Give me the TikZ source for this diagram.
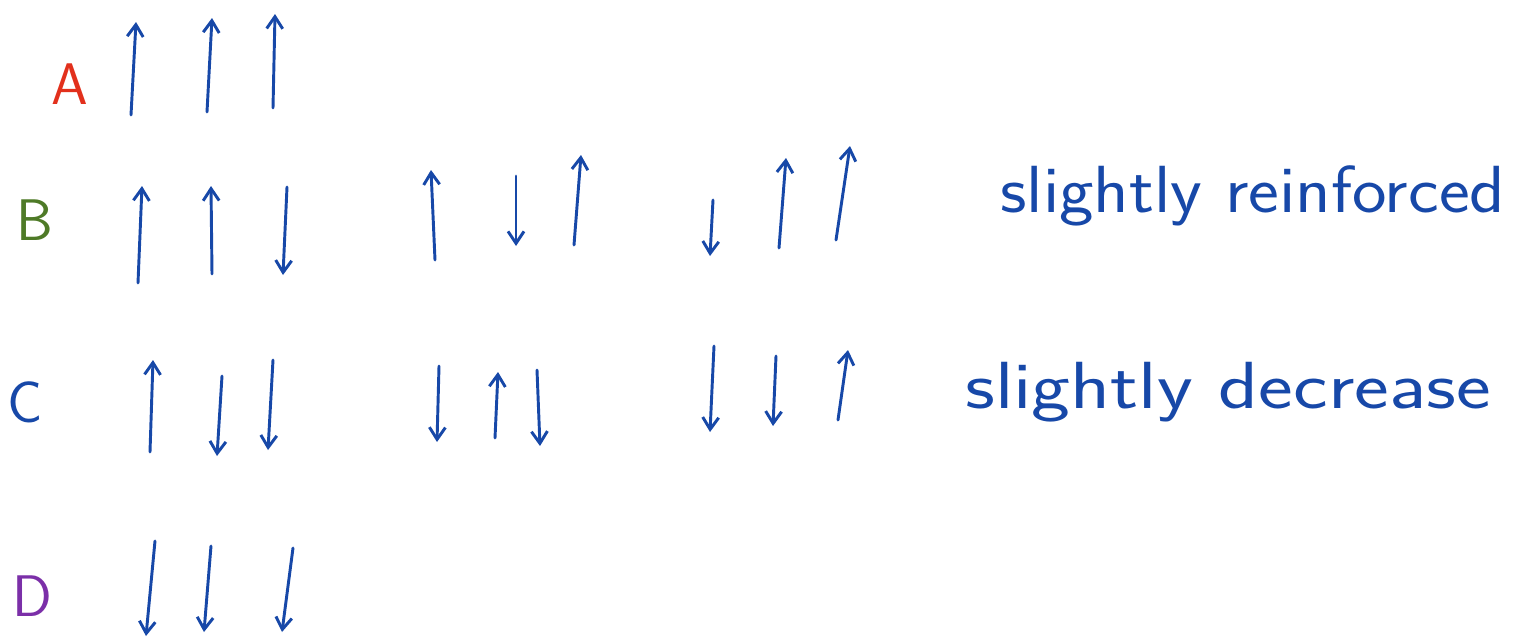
\documentclass[tikz,border=0pt]{standalone}
\usetikzlibrary{arrows.meta}
\definecolor{ink}{RGB}{23,72,168}
\definecolor{inkred}{RGB}{226,48,28}
\definecolor{inkgreen}{RGB}{78,122,39}
\definecolor{inkpurple}{RGB}{123,47,168}
\tikzset{
  spin/.style={draw=ink, line width=2.2pt, line cap=round, -{Straight Barb[length=9pt,width=12pt,line width=2.2pt]}},
  lbl/.style={font=\sffamily\fontsize{44}{48}\selectfont, inner sep=0pt},
  note/.style={font=\sffamily\fontsize{50}{54}\selectfont, text=ink, inner sep=0pt, anchor=base west}
}
\begin{document}
\begin{tikzpicture}[x=0.75pt,y=-0.75pt]
\useasboundingbox (0,0) rectangle (1533,643);
% labels
\node[lbl, text=inkred] (la) at (70,84) {A};
\node[lbl, text=inkgreen] (lb) at (35,220) {B};
\node[lbl, text=ink] (lc) at (25,402) {C};
\node[lbl, text=inkpurple] (ld) at (32,596) {D};
% row A
\draw[spin] (131,115) -- (136,22);
\draw[spin] (207,112) -- (212,18);
\draw[spin] (273,108) -- (275,14);
% row B group 1
\draw[spin] (138,283) -- (142,186);
\draw[spin] (212,274) -- (211,186);
\draw[spin] (287,187) -- (283,275);
% row B group 2
\draw[spin] (435,260) -- (431,170);
\draw[spin] (516,176) -- (516,246);
\draw[spin] (574,245) -- (581,155);
% row B group 3
\draw[spin] (713,200) -- (710,256);
\draw[spin] (779,248) -- (786,158);
\draw[spin] (836,240) -- (850,146);
% row C group 1
\draw[spin] (150,452) -- (153,360);
\draw[spin] (222,376) -- (217,456);
\draw[spin] (273,360) -- (268,450);
% row C group 2
\draw[spin] (439,366) -- (437,442);
\draw[spin] (495,438) -- (498,372);
\draw[spin] (537,370) -- (540,446);
% row C group 3
\draw[spin] (714,346) -- (710,432);
\draw[spin] (776,356) -- (773,426);
\draw[spin] (838,420) -- (848,350);
% row D
\draw[spin] (155,541) -- (146,636);
\draw[spin] (211,546) -- (204,632);
\draw[spin] (293,548) -- (282,632);
% notes
\node[note, xscale=1.1] (nb) at (1000,212) {slightly reinforced};
\node[note, xscale=1.24] (nc) at (965,408) {slightly decrease};
\end{tikzpicture}
\end{document}
